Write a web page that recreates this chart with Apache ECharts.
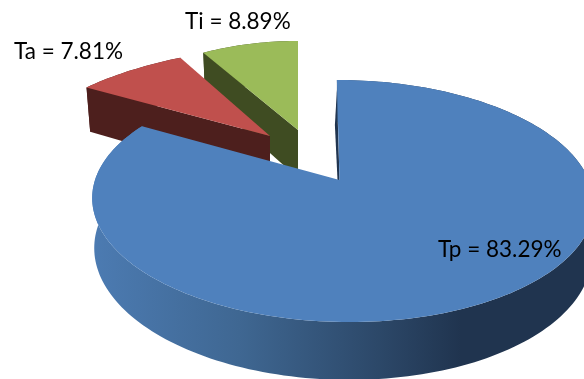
<!DOCTYPE html>
<html>
<head>
<meta charset="utf-8">
<style>html,body{margin:0;padding:0;background:#fff}#chart{width:584px;height:379px}</style>
<script src="https://cdn.jsdelivr.net/npm/echarts@6/dist/echarts.min.js"></script>
</head>
<body>
<div id="chart"></div>
<script>
// Share of each component, in percent, clockwise from twelve o'clock.
var categories = ['Tp', 'Ta', 'Ti'];
var shares = [83.29, 7.81, 8.89];

// Tilted-disc projection of each exploded slice: apex, horizontal and vertical
// radii, skew, perspective strength, wall height and wall taper.
var discs = {
  Tp: { x0: 342, y0: 180, apexDx: -2.5, f: 247, s: -6, g: 117.4, k: 0.1736, d: 49.4, taper: 0.008,
        top: '#4f81bd', label: { x: 438, y: 250 }, sliver: true,
        wall: [[0, '#4c7bb2'], [0.3, '#3f6792'], [0.6, '#2b4666'], [0.75, '#20344f'], [1, '#20344f']] },
  Ta: { x0: 270, y0: 136, apexDx: 0, f: 250, s: 35, g: 106, k: 0.1736, d: 48, taper: 0.022,
        top: '#c0504d', label: { x: 14, y: 52 },
        wall: [[0, '#4d1f1d'], [1, '#4d1f1d']] },
  Ti: { x0: 298, y0: 130, apexDx: 0, f: 205, s: 0, g: 104.5, k: 0.1736, d: 48, taper: 0.022,
        top: '#9bbb59', label: { x: 185, y: 22 },
        wall: [[0, '#3f4c22'], [1, '#3f4c22']] }
};

var total = shares.reduce(function (a, b) { return a + b; }, 0);
var starts = [];
shares.reduce(function (acc, v, i) { starts[i] = acc; return acc + v; }, 0);

// Map a point of the slice (polar angle, radius, 0 = top face / 1 = base) to the screen.
function project(p, angle, r, level) {
  var X = Math.sin(angle) * r, Y = Math.cos(angle) * r;
  var w = 1 + p.k * Y + level * p.taper;
  return [p.x0 + (p.f * X + p.s * Y) / w, p.y0 - p.g * Y / w + level * p.d / w];
}

function rim(p, a0, a1, level) {
  var pts = [], n = Math.max(8, Math.ceil((a1 - a0) * 40));
  for (var i = 0; i <= n; i++) pts.push(project(p, a0 + (a1 - a0) * i / n, 1, level));
  return pts;
}

function renderSlice(params) {
  // Back slices are painted first, so the large slice overlaps them.
  var idx = categories.length - 1 - params.dataIndex;
  var name = categories[idx], p = discs[name];
  var a0 = starts[idx] / total * Math.PI * 2;
  var a1 = (starts[idx] + shares[idx]) / total * Math.PI * 2;
  var topRim = rim(p, a0, a1, 0), baseRim = rim(p, a0, a1, 1);
  var apex = [p.x0 + p.apexDx, p.y0];
  var wallFill = new echarts.graphic.LinearGradient(92, 0, 584, 0,
    p.wall.map(function (s) { return { offset: s[0], color: s[1] }; }), true);
  var dark = p.wall[p.wall.length - 1][1];
  var children = [];

  // Radial wall on the leading cut; on the large slice only a thin edge of it shows.
  var cutWall = p.sliver
    ? [[topRim[0][0], topRim[0][1] + 10], [topRim[0][0] - 2, topRim[0][1] + 45], [apex[0] - 2, apex[1]], apex]
    : [topRim[0], baseRim[0], [apex[0], apex[1] + p.d], apex];
  children.push({ type: 'polygon', shape: { points: cutWall }, style: { fill: dark } });
  // Outer curved wall.
  children.push({ type: 'polygon',
    shape: { points: topRim.concat(baseRim.slice().reverse()) },
    style: { fill: wallFill } });
  // Top face.
  children.push({ type: 'polygon',
    shape: { points: [apex].concat(topRim) },
    style: { fill: p.top } });
  // Value label.
  children.push({ type: 'text',
    style: { text: name + ' = ' + shares[idx].toFixed(2) + '%', x: p.label.x, y: p.label.y,
             fill: '#000', font: '22.5px Lato', verticalAlign: 'middle', align: 'left' } });
  return { type: 'group', children: children };
}

var chart = echarts.init(document.getElementById('chart'), null, { renderer: 'canvas' });
chart.setOption({
  animation: false,
  backgroundColor: '#fff',
  series: [{
    type: 'custom',
    coordinateSystem: 'none',
    silent: true,
    renderItem: renderSlice,
    data: categories.map(function (c, i) { return shares[categories.length - 1 - i]; })
  }]
});
</script>
</body>
</html>
